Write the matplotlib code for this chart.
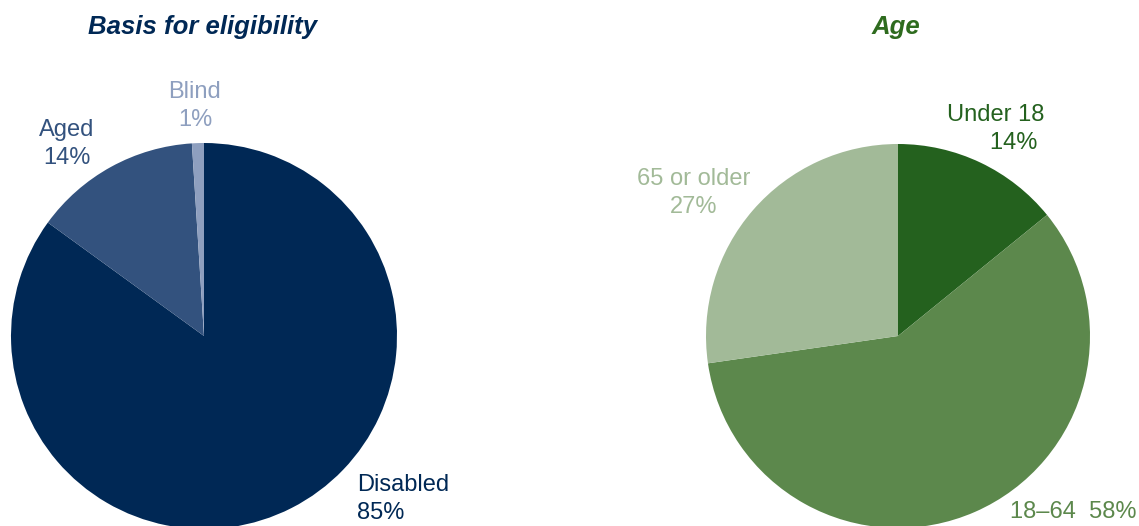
import matplotlib
matplotlib.use("Agg")
import matplotlib.pyplot as plt

plt.rcParams['font.family'] = ['Liberation Sans', 'DejaVu Sans']

# basis for eligibility
basis_labels = ['Disabled', 'Aged', 'Blind']
basis_values = [85, 14, 1]
basis_colors = ['#002855', '#33527e', '#8e9fbf']

# age groups
age_labels = ['Under 18', '18\u201364', '65 or older']
age_values = [14, 58, 27]
age_colors = ['#24611e', '#5c884c', '#a2ba98']

fig = plt.figure(figsize=(11.39, 5.26), dpi=100)
ax = fig.add_axes([0, 0, 1, 1])

ax.pie(basis_values, colors=basis_colors, startangle=90, counterclock=False,
       center=(204, 190), radius=193, frame=True)
ax.pie(age_values, colors=age_colors, startangle=90, counterclock=False,
       center=(898, 190), radius=192, frame=True)
ax.set_xlim(0, 1139)
ax.set_ylim(0, 526)
ax.axis('off')

fs = 17
ls = 1.38
ax.text(203, 499, 'Basis for eligibility', ha='center', va='center', fontsize=18.5,
        fontweight='bold', fontstyle='italic', color='#002855')
ax.text(896, 499, 'Age', ha='center', va='center', fontsize=18.5,
        fontweight='bold', fontstyle='italic', color='#2e6b1e')

ax.text(195, 420, '%s\n%d%%' % (basis_labels[2], basis_values[2]), ha='center',
        va='center', fontsize=fs, color=basis_colors[2], linespacing=ls)
ax.text(67, 382, '%s\n%d%%' % (basis_labels[1], basis_values[1]), ha='center',
        va='center', fontsize=fs, color=basis_colors[1], linespacing=ls)
ax.text(357, 27, '%s\n%d%%' % (basis_labels[0], basis_values[0]), ha='left',
        va='center', fontsize=fs, color=basis_colors[0], linespacing=ls)

ax.text(1044, 397, '%s\n%d%% ' % (age_labels[0], age_values[0]), ha='right',
        va='center', fontsize=fs, color=age_colors[0], linespacing=ls)
ax.text(694, 333, '%s\n%d%%' % (age_labels[2], age_values[2]), ha='center',
        va='center', fontsize=fs, color=age_colors[2], linespacing=ls)
ax.text(1010, 14, '%s  %d%%' % (age_labels[1], age_values[1]), ha='left',
        va='center', fontsize=fs, color=age_colors[1])

fig.savefig('out.png', dpi=100)
